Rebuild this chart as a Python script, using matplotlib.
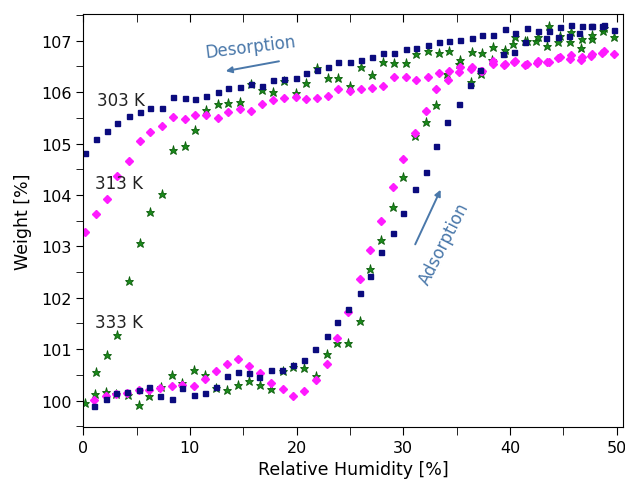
import matplotlib
matplotlib.use("Agg")
import matplotlib.pyplot as plt
from matplotlib.ticker import MultipleLocator

# 303 K (navy squares)
rh_303_des = [0.2, 1.2, 2.2, 3.2, 4.3, 5.3, 6.3, 7.4, 8.4, 9.5, 10.5, 11.5, 12.6, 13.6, 14.7, 15.7,
              16.8, 17.8, 18.8, 19.9, 20.9, 21.9, 22.9, 23.9, 25.0, 26.0, 27.1, 28.1, 29.1, 30.2, 31.2,
              32.3, 33.3, 34.3, 35.3, 36.4, 37.4, 38.4, 39.5, 40.5, 41.6, 42.6, 43.6, 44.7, 45.7, 46.7,
              47.7, 48.8, 49.7]
w_303_des = [104.82, 105.08, 105.24, 105.39, 105.53, 105.62, 105.70, 105.70, 105.90, 105.89, 105.86,
             105.93, 106.01, 106.08, 106.10, 106.15, 106.11, 106.24, 106.26, 106.28, 106.37, 106.44,
             106.49, 106.59, 106.59, 106.63, 106.69, 106.76, 106.76, 106.83, 106.86, 106.91, 106.97,
             106.99, 107.01, 107.05, 107.12, 107.11, 107.23, 107.16, 107.25, 107.18, 107.19, 107.26,
             107.31, 107.28, 107.29, 107.30, 107.21]
rh_303_ads = [1.0, 2.1, 3.1, 4.1, 5.2, 6.2, 7.2, 8.3, 9.3, 10.4, 11.4, 12.4, 13.5, 14.5, 15.5, 16.5,
              17.6, 18.6, 19.7, 20.7, 21.7, 22.8, 23.8, 24.8, 25.9, 26.9, 27.9, 29.0, 30.0, 31.1, 32.1,
              33.1, 34.1, 35.2, 36.2, 37.2, 39.3, 40.4, 41.4, 43.4, 44.5, 45.5, 46.5, 47.6, 48.6]
w_303_ads = [99.89, 100.03, 100.15, 100.17, 100.21, 100.27, 100.09, 100.03, 100.25, 100.10, 100.15,
             100.27, 100.47, 100.56, 100.54, 100.46, 100.59, 100.60, 100.69, 100.79, 101.01, 101.26,
             101.52, 101.78, 102.10, 102.43, 102.89, 103.26, 103.65, 104.11, 104.44, 104.95, 105.42,
             105.77, 106.14, 106.43, 106.75, 106.78, 106.97, 107.05, 107.08, 107.09, 107.16, 107.28,
             107.28]

# 313 K (magenta diamonds)
rh_313_des = rh_303_des
w_313_des = [103.27, 103.63, 103.92, 104.37, 104.67, 105.05, 105.23, 105.34, 105.52, 105.47, 105.55,
             105.55, 105.50, 105.62, 105.67, 105.64, 105.76, 105.84, 105.89, 105.90, 105.87, 105.88,
             105.93, 106.07, 106.03, 106.06, 106.09, 106.12, 106.30, 106.30, 106.24, 106.30, 106.37,
             106.42, 106.48, 106.48, 106.42, 106.55, 106.55, 106.61, 106.55, 106.61, 106.59, 106.68,
             106.73, 106.69, 106.74, 106.80, 106.75]
rh_313_ads = [1.0, 2.1, 3.1, 4.1, 5.2, 6.2, 7.2, 8.3, 9.3, 10.4, 11.4, 12.4, 13.5, 14.5, 15.5, 16.6,
              17.6, 18.7, 19.7, 20.7, 21.8, 22.8, 23.8, 24.8, 25.9, 26.9, 27.9, 29.0, 30.0, 31.1, 32.1,
              33.1, 34.2, 35.2, 36.3, 37.3, 38.4, 39.4, 40.4, 41.4, 42.5, 43.5, 44.5, 45.6, 46.6, 47.6,
              48.6]
w_313_ads = [100.01, 100.08, 100.12, 100.15, 100.20, 100.21, 100.25, 100.28, 100.31, 100.28, 100.42,
             100.57, 100.71, 100.80, 100.67, 100.54, 100.34, 100.22, 100.08, 100.19, 100.40, 100.71,
             101.22, 101.72, 102.36, 102.93, 103.50, 104.15, 104.69, 105.20, 105.63, 106.07, 106.23,
             106.40, 106.45, 106.42, 106.61, 106.53, 106.58, 106.52, 106.57, 106.58, 106.66, 106.64,
             106.62, 106.70, 106.76]

# 333 K (green stars)
rh_333_des = rh_303_des
w_333_des = [99.96, 100.55, 100.89, 101.28, 102.33, 103.07, 103.67, 104.01, 104.87, 104.95, 105.27,
             105.65, 105.77, 105.79, 105.80, 106.16, 106.05, 106.01, 106.22, 105.98, 106.17, 106.46,
             106.28, 106.28, 106.11, 106.48, 106.33, 106.59, 106.57, 106.57, 106.75, 106.80, 106.77,
             106.81, 106.63, 106.79, 106.76, 106.88, 106.82, 107.08, 107.00, 107.07, 107.29, 107.09,
             107.17, 107.03, 107.11, 107.24, 107.08]
rh_333_ads = [1.1, 2.1, 3.1, 4.2, 5.2, 6.2, 7.3, 8.3, 9.3, 10.4, 11.4, 12.4, 13.5, 14.5, 15.5, 16.6,
              17.6, 18.7, 19.7, 20.7, 21.8, 22.8, 23.8, 24.8, 25.9, 26.9, 27.9, 29.0, 30.0, 31.1, 32.1,
              33.1, 34.1, 35.2, 36.3, 37.3, 38.3, 39.4, 40.3, 41.4, 42.4, 43.5, 44.5, 45.6, 46.6, 47.7,
              48.7]
w_333_ads = [100.13, 100.16, 100.12, 100.10, 99.91, 100.09, 100.27, 100.50, 100.34, 100.60, 100.49,
             100.25, 100.21, 100.31, 100.38, 100.31, 100.23, 100.58, 100.66, 100.63, 100.47, 100.90,
             101.12, 101.12, 101.55, 102.56, 103.12, 103.76, 104.34, 105.15, 105.41, 105.75, 106.35,
             106.55, 106.20, 106.35, 106.63, 106.77, 106.93, 107.00, 107.00, 106.90, 106.97, 106.98,
             106.86, 107.03, 107.19]

temp_labels = ["303 K", "313 K", "333 K"]
label_pos = [(1.25, 105.85), (1.1, 104.23), (1.1, 101.53)]

navy = "#0b0b7e"
magenta = "#ff1aff"
green = "#1a8a1a"
note_color = "#4a78aa"

fig = plt.figure(figsize=(6.25, 4.81), dpi=100)
ax = fig.add_axes([0.1331, 0.1096, 0.8632, 0.8592])

sq = dict(marker="s", ls="none", ms=3.6, color=navy, mec=navy)
dm = dict(marker="D", ls="none", ms=4.0, color=magenta, mec=magenta)
st = dict(marker="*", ls="none", ms=6.5, color=green, mec="#0d5e0d", mew=0.6)

ax.plot(rh_333_ads, w_333_ads, **st)
ax.plot(rh_333_des, w_333_des, **st)
ax.plot(rh_313_ads, w_313_ads, **dm)
ax.plot(rh_313_des, w_313_des, **dm)
ax.plot(rh_303_ads, w_303_ads, **sq)
ax.plot(rh_303_des, w_303_des, **sq)

for lab, (lx, ly) in zip(temp_labels, label_pos):
    ax.text(lx, ly, lab, fontsize=12, ha="left", va="center", color="#222222")

ax.annotate("", xy=(13.1, 106.40), xytext=(18.6, 106.61),
            arrowprops=dict(arrowstyle="-|>", color=note_color, lw=1.4, mutation_scale=9))
ax.text(15.7, 106.88, "Desorption", color=note_color, fontsize=12, rotation=7,
        ha="center", va="center")
ax.annotate("", xy=(33.6, 104.15), xytext=(31.0, 102.99),
            arrowprops=dict(arrowstyle="-|>", color=note_color, lw=1.4, mutation_scale=9))
ax.text(33.85, 103.07, "Adsorption", color=note_color, fontsize=12, rotation=63,
        ha="center", va="center")

ax.set_xlim(0, 50.55)
ax.set_ylim(99.48, 107.52)
ax.xaxis.set_major_locator(MultipleLocator(10))
ax.xaxis.set_minor_locator(MultipleLocator(5))
ax.yaxis.set_major_locator(MultipleLocator(1))
ax.yaxis.set_minor_locator(MultipleLocator(0.5))
ax.tick_params(axis="x", which="both", direction="out", top=True, length=6, labelsize=11.5)
ax.tick_params(axis="y", which="both", direction="out", right=False, length=5, labelsize=11.5)
# top ticks point inward
for t in ax.xaxis.get_major_ticks() + ax.xaxis.get_minor_ticks():
    t.tick2line.set_marker(matplotlib.lines.TICKDOWN)
ax.set_xlabel("Relative Humidity [%]", fontsize=12.5, labelpad=3)
ax.set_ylabel("Weight [%]", fontsize=12.5, labelpad=6)

fig.savefig("out.png", dpi=100)
